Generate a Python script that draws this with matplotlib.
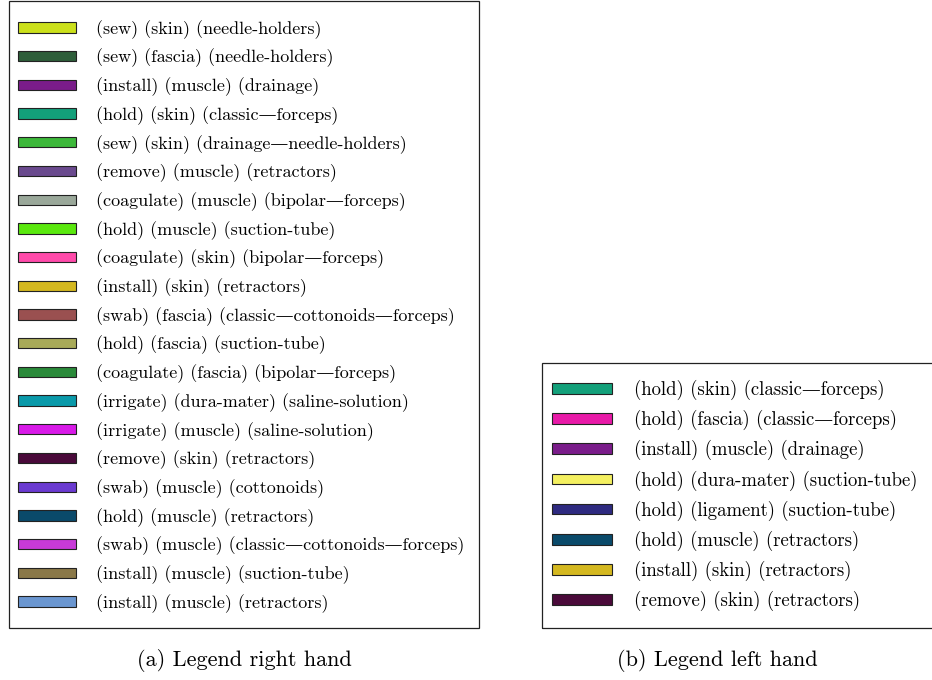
import matplotlib
matplotlib.use("Agg")
import matplotlib.pyplot as plt
from matplotlib.patches import Patch, Rectangle

plt.rcParams['font.family'] = ['cmr10', 'DejaVu Serif']
plt.rcParams['axes.unicode_minus'] = False

# legend of the right hand
right_labels = [
    "(sew) (skin) (needle-holders)",
    "(sew) (fascia) (needle-holders)",
    "(install) (muscle) (drainage)",
    "(hold) (skin) (classic\u2014forceps)",
    "(sew) (skin) (drainage\u2014needle-holders)",
    "(remove) (muscle) (retractors)",
    "(coagulate) (muscle) (bipolar\u2014forceps)",
    "(hold) (muscle) (suction-tube)",
    "(coagulate) (skin) (bipolar\u2014forceps)",
    "(install) (skin) (retractors)",
    "(swab) (fascia) (classic\u2014cottonoids\u2014forceps)",
    "(hold) (fascia) (suction-tube)",
    "(coagulate) (fascia) (bipolar\u2014forceps)",
    "(irrigate) (dura-mater) (saline-solution)",
    "(irrigate) (muscle) (saline-solution)",
    "(remove) (skin) (retractors)",
    "(swab) (muscle) (cottonoids)",
    "(hold) (muscle) (retractors)",
    "(swab) (muscle) (classic\u2014cottonoids\u2014forceps)",
    "(install) (muscle) (suction-tube)",
    "(install) (muscle) (retractors)",
]
right_colors = [
    "#cbe01b", "#2e5e3a", "#7a1c8a", "#13a07a", "#3cb83a", "#6a4a8e",
    "#9aa89a", "#5ae80e", "#ff4aaa", "#d4b820", "#9a5050", "#a8aa58",
    "#2a8a3a", "#0a9aaa", "#d81ae8", "#4a0a3a", "#6a3ad0", "#0a4a6a",
    "#c83ad8", "#8a7848", "#6a96d0",
]

# legend of the left hand
left_labels = [
    "(hold) (skin) (classic\u2014forceps)",
    "(hold) (fascia) (classic\u2014forceps)",
    "(install) (muscle) (drainage)",
    "(hold) (dura-mater) (suction-tube)",
    "(hold) (ligament) (suction-tube)",
    "(hold) (muscle) (retractors)",
    "(install) (skin) (retractors)",
    "(remove) (skin) (retractors)",
]
left_colors = [
    "#13a07a", "#e81aa8", "#7a1c8a", "#f4f060",
    "#2e2a80", "#0a4a6a", "#d4b820", "#4a0a3a",
]

W, H = 932, 680
fig = plt.figure(figsize=(W / 100, H / 100), dpi=100)


def make_legend(labels, colors, frame, anchor, fs, spacing, hlen, pad):
    # frame box in pixels (x0, top, x1, bottom)
    x0, top, x1, bottom = frame
    fig.patches.append(Rectangle((x0 / W, 1 - bottom / H), (x1 - x0) / W,
                                 (bottom - top) / H, transform=fig.transFigure,
                                 facecolor="none", edgecolor="#222222",
                                 linewidth=0.9))
    handles = [Patch(facecolor=c, edgecolor="#222222", linewidth=0.8, label=l)
               for l, c in zip(labels, colors)]
    ax_, ay_ = anchor
    fig.legend(handles=handles, loc="upper left",
               bbox_to_anchor=(ax_ / W, 1 - ay_ / H),
               fontsize=fs, frameon=False, handlelength=hlen,
               handleheight=0.5, handletextpad=pad, labelspacing=spacing,
               borderpad=0, borderaxespad=0)


make_legend(right_labels, right_colors, (9, 0.5, 479, 628), (18, 20), 13, 0.553, 3.2, 1.1)
make_legend(left_labels, left_colors, (542, 363, 960, 628), (552, 380), 13.5, 0.534, 3.2, 1.15)

fig.text(244 / W, 1 - 660 / H, "(a) Legend right hand", ha="center", va="center", fontsize=16)
fig.text(717 / W, 1 - 660 / H, "(b) Legend left hand", ha="center", va="center", fontsize=16)

fig.savefig("out.png", dpi=100)
